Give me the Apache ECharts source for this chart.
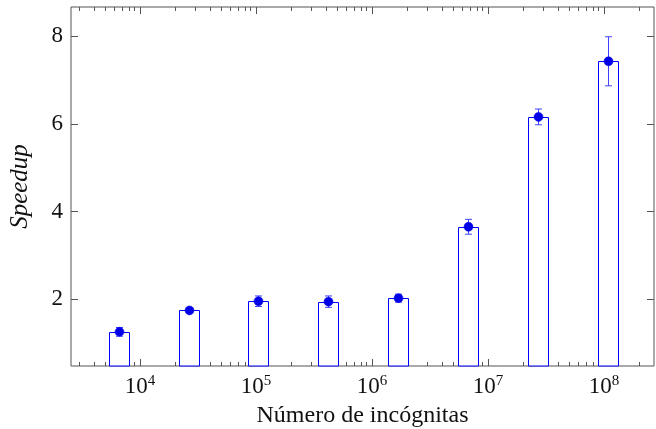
<!DOCTYPE html>
<html>
<head>
<meta charset="utf-8">
<script src="https://cdn.jsdelivr.net/npm/echarts@6/dist/echarts.min.js"></script>
<style>
  html, body { margin: 0; padding: 0; background: #fff; }
  #chart { width: 656px; height: 429px; }
</style>
</head>
<body>
<div id="chart"></div>
<script>
// number of unknowns (grid sizes) and measured speedup
const unknowns = [6561, 26244, 104976, 419904, 1679616, 6718464, 26873856, 107495424];
const speedup = [1.25, 1.74, 1.95, 1.94, 2.02, 3.65, 6.16, 7.43];
const speedupErr = [0.10, 0.04, 0.12, 0.13, 0.09, 0.17, 0.18, 0.56];

const xMajor = [1e4, 1e5, 1e6, 1e7, 1e8];
const xMinor = [];
for (let e = 3; e <= 8; e++) {
    for (let k = 2; k <= 9; k++) xMinor.push(k * Math.pow(10, e));
}
const yTicks = [2, 4, 6, 8];

const xMin = 2541, xMax = 2.698e8;
const yMin = 0.47, yMax = 8.67;

const FONT = 'Liberation Serif';
const BLUE = '#0000ff';
const FRAME = '#555555';

var dom = document.getElementById('chart');
var myChart = echarts.init(dom, null, { renderer: 'canvas' });

function xAxisDef(pos, ticks, len, withLabels) {
    return {
        type: 'log',
        logBase: 10,
        position: pos,
        min: xMin,
        max: xMax,
        axisLine: { show: false },
        splitLine: { show: false },
        axisTick: {
            show: true,
            inside: true,
            length: len,
            customValues: ticks,
            lineStyle: { color: FRAME, width: 1 }
        },
        axisLabel: withLabels ? {
            show: true,
            customValues: xMajor,
            margin: 8,
            color: '#111',
            fontFamily: FONT,
            fontSize: 23,
            formatter: function (v) {
                return '10{sup|' + Math.round(Math.log10(v)) + '}';
            },
            rich: {
                sup: { fontFamily: FONT, fontSize: 15, color: '#111', verticalAlign: 'bottom', padding: [0, 0, 11, 0] }
            }
        } : { show: false }
    };
}

function yAxisDef(pos, withLabels) {
    return {
        type: 'value',
        position: pos,
        min: yMin,
        max: yMax,
        axisLine: { show: false },
        splitLine: { show: false },
        axisTick: {
            show: true,
            inside: true,
            length: 7,
            customValues: yTicks,
            lineStyle: { color: FRAME, width: 1 }
        },
        axisLabel: withLabels ? {
            show: true,
            customValues: yTicks,
            margin: 8,
            color: '#111',
            fontFamily: FONT,
            fontSize: 23
        } : { show: false }
    };
}

const xAxes = [
    xAxisDef('bottom', xMajor, 7, true),
    xAxisDef('bottom', xMinor, 4, false),
    xAxisDef('top', xMajor, 7, false),
    xAxisDef('top', xMinor, 4, false)
];
xAxes[0].name = 'Número de incógnitas';
xAxes[0].nameLocation = 'middle';
xAxes[0].nameGap = 28;
xAxes[0].nameTextStyle = { fontFamily: FONT, fontSize: 24, color: '#111' };

const yAxes = [yAxisDef('left', true), yAxisDef('right', false)];
yAxes[0].name = 'Speedup';
yAxes[0].nameLocation = 'middle';
yAxes[0].nameGap = 38;
yAxes[0].nameTextStyle = { fontFamily: FONT, fontSize: 25, fontStyle: 'italic', color: '#111' };

const barData = unknowns.map((n, i) => [n, speedup[i]]);
const errData = unknowns.map((n, i) => [n, speedup[i], speedupErr[i]]);

const option = {
    animation: false,
    backgroundColor: '#fff',
    grid: {
        left: 71, right: 2, top: 7, bottom: 63,
        outerBoundsMode: 'none',
        containLabel: false,
        show: true,
        borderColor: FRAME,
        borderWidth: 1,
        backgroundColor: 'transparent'
    },
    xAxis: xAxes,
    yAxis: yAxes,
    series: [
        {
            name: 'bars',
            type: 'custom',
            xAxisIndex: 0,
            yAxisIndex: 0,
            data: barData,
            renderItem: function (params, api) {
                const top = api.coord([api.value(0), api.value(1)]);
                const cs = params.coordSys;
                const bottom = cs.y + cs.height;
                const w = 20;
                const x0 = Math.round(top[0] - w / 2) + 0.5;
                const y0 = Math.round(top[1]) + 0.5;
                return {
                    type: 'rect',
                    shape: { x: x0, y: y0, width: w, height: bottom - y0 },
                    style: { fill: '#fff', stroke: BLUE, lineWidth: 1 }
                };
            }
        },
        {
            name: 'errors',
            type: 'custom',
            xAxisIndex: 0,
            yAxisIndex: 0,
            data: errData,
            renderItem: function (params, api) {
                const x = api.value(0), y = api.value(1), e = api.value(2);
                const c = api.coord([x, y]);
                const hi = api.coord([x, y + e]);
                const lo = api.coord([x, y - e]);
                const cx = Math.round(c[0]) + 0.5;
                const cap = 3.5;
                const ls = { stroke: '#4040ff', lineWidth: 1 };
                return {
                    type: 'group',
                    children: [
                        { type: 'line', shape: { x1: cx, y1: hi[1], x2: cx, y2: lo[1] }, style: ls },
                        { type: 'line', shape: { x1: cx - cap, y1: hi[1], x2: cx + cap, y2: hi[1] }, style: ls },
                        { type: 'line', shape: { x1: cx - cap, y1: lo[1], x2: cx + cap, y2: lo[1] }, style: ls },
                        { type: 'circle', shape: { cx: cx, cy: c[1], r: 4.5 }, style: { fill: '#0000e6', stroke: '#0000e6', lineWidth: 0.5 } }
                    ]
                };
            }
        }
    ]
};

myChart.setOption(option);
window.addEventListener('resize', myChart.resize);
</script>
</body>
</html>
